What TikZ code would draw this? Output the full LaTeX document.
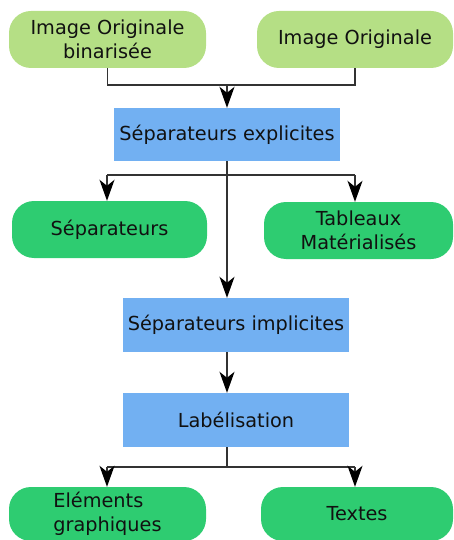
\documentclass[tikz,border=0pt]{standalone}
\usepackage{fontspec}
\setmainfont{DejaVu Sans}
\usetikzlibrary{arrows.meta,calc}
\definecolor{lgreen}{HTML}{B5DF85}
\definecolor{dgreen}{HTML}{2ECC71}
\definecolor{lblue}{HTML}{72B0F2}
\definecolor{linec}{HTML}{333333}
\definecolor{txtc}{HTML}{111111}
\tikzset{
  base/.style={inner sep=0pt, text=txtc, font=\fontsize{19.3}{23.5}\selectfont, align=center},
  pill/.style={base, rounded corners=22pt},
  lpill/.style={pill, fill=lgreen},
  gpill/.style={pill, fill=dgreen},
  bbox/.style={base, fill=lblue},
  conn/.style={draw=linec, line width=1.6pt},
  arr/.style={conn, -{Stealth[length=21pt,width=15pt,inset=6pt,color=black]}},
}
\begin{document}
\begin{tikzpicture}[x=1pt,y=-1pt]
\useasboundingbox (0,0) rectangle (453,540);
\node[lpill, minimum width=197pt, minimum height=57pt] (io1) at (107.5,39.5) {Image Originale\\binarisée};
\node[lpill, minimum width=196pt, minimum height=57pt] (io2) at (355,39.5) {Image Originale};
\node[bbox, minimum width=226pt, minimum height=53pt] (sepex) at (227,134.5) {Séparateurs explicites};
\node[gpill, minimum width=195pt, minimum height=57pt] (sep) at (109.5,229.5) {Séparateurs};
\node[gpill, minimum width=189pt, minimum height=57pt] (tab) at (358.5,230.5) {Tableaux\\Matérialisés};
\node[bbox, minimum width=226pt, minimum height=54pt] (sepim) at (236,325) {Séparateurs implicites};
\node[bbox, minimum width=226pt, minimum height=54pt] (lab) at (236,420) {Labélisation};
\node[gpill, minimum width=197pt, minimum height=54pt, align=left] (elem) at (107.5,514) {Eléments\\graphiques};
\node[gpill, minimum width=192pt, minimum height=54pt] (txt) at (357,514) {Textes};
% junctions
\coordinate (j1) at (227,85);
\coordinate (j2) at (227,175);
\coordinate (j3) at (227,467);
\coordinate (l2) at (107,175);
\coordinate (r2) at (355,175);
\coordinate (l3) at (107,467);
\coordinate (r3) at (355,467);
% top merge
\draw[conn] (io1.south) |- (j1) -| (io2.south);
\draw[arr] (j1) -- (sepex.north);
% split after explicites
\draw[conn] (sepex.south) -- (j2);
\draw[conn] (l2) -- (r2);
\draw[arr] (l2) -- (l2 |- sep.north);
\draw[arr] (r2) -- (r2 |- tab.north);
\draw[arr] (j2) -- (j2 |- sepim.north);
\draw[arr] (j2 |- sepim.south) -- (j2 |- lab.north);
% split after labelisation
\draw[conn] (j2 |- lab.south) -- (j3);
\draw[conn] (l3) -- (r3);
\draw[arr] (l3) -- (l3 |- elem.north);
\draw[arr] (r3) -- (r3 |- txt.north);
\end{tikzpicture}
\end{document}
